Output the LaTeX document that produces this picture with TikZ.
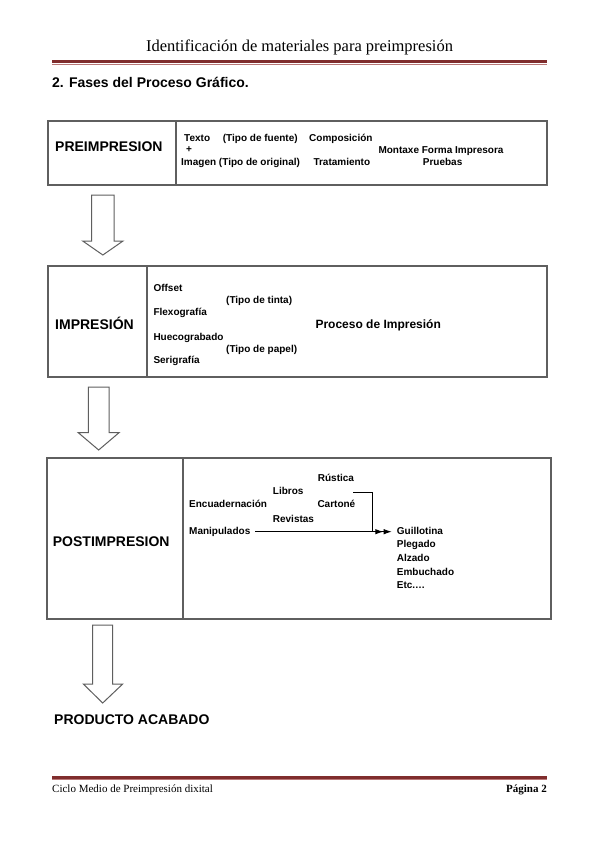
\documentclass[tikz,border=0pt]{standalone}
\usepackage{fontspec}
\setmainfont{Liberation Sans}
\newfontfamily\hdrserif{Liberation Serif}
\usetikzlibrary{arrows.meta,calc}
\definecolor{rulered}{RGB}{128,45,45}
\definecolor{rulelight}{RGB}{185,120,120}
\definecolor{boxgray}{RGB}{95,95,95}
\begin{document}
\begin{tikzpicture}[x=1pt,y=-1pt,
  sm/.style={font=\bfseries\fontsize{10}{12}\selectfont, inner sep=0pt, anchor=base west},
  big/.style={font=\bfseries\fontsize{14}{16}\selectfont, inner sep=0pt, anchor=base west},
  mid/.style={font=\bfseries\fontsize{12}{14}\selectfont, inner sep=0pt, anchor=base west},
  boxline/.style={draw=boxgray, line width=1.2pt},
  blockarrow/.style={draw=boxgray, line width=1pt, fill=white, line join=miter},
  conn/.style={draw=black, line width=0.9pt, -{Latex[length=8pt,width=5.5pt]}},
  rulestyle/.style={draw=rulered, line width=3pt},
  rulethin/.style={draw=rulelight, line width=0.8pt}
]
\useasboundingbox[fill=white] (0,0) rectangle (599,848);

% header
\node[font=\hdrserif\fontsize{16.5}{18}\selectfont, inner sep=0pt, anchor=base] (title) at (299.5,51.5) {Identificación de materiales para preimpresión};
\draw[rulestyle] (52,62) -- (547,62);
\draw[rulethin] (52,64.2) -- (547,64.2);
\node[big] (sec) at (52,88) {2. Fases del Proceso Gráfico.};

% box 1
\draw[boxline] (48,121) rectangle (547,185);
\draw[boxline] (176,121) -- (176,185);
\node[big] (pre) at (55,151) {PREIMPRESION};
\node[sm] (texto) at (184,142) {Texto};
\node[sm] (tfuente) at (222.7,142) {(Tipo de fuente)};
\node[sm] (compos) at (309,142) {Composición};
\node[sm] (plus) at (186,153) {+};
\node[sm] (imagen) at (181,165) {Imagen (Tipo de original)};
\node[sm] (tratam) at (313.3,165) {Tratamiento};
\node[sm] (montaxe) at (378.3,153.5) {Montaxe Forma Impresora};
\node[sm] (pruebas) at (422.7,165) {Pruebas};

% arrow 1
\draw[blockarrow] (91.7,195) -- (114,195) -- (114,241) -- (123,241) -- (102.85,255) -- (82.7,241) -- (91.7,241) -- cycle;

% box 2
\draw[boxline] (48,266) rectangle (547,377);
\draw[boxline] (147,266) -- (147,377);
\node[big] (imp) at (55,329) {IMPRESIÓN};
\node[sm] (offset) at (153.3,291.8) {Offset};
\node[sm] (tinta) at (226,303.5) {(Tipo de tinta)};
\node[sm] (flexo) at (153.3,315.8) {Flexografía};
\node[sm] (hueco) at (153.3,340.8) {Huecograbado};
\node[sm] (papel) at (226,352.8) {(Tipo de papel)};
\node[sm] (serig) at (153.3,363.5) {Serigrafía};
\node[mid] (proceso) at (315.3,328.3) {Proceso de Impresión};

% arrow 2
\draw[blockarrow] (88.3,387) -- (109,387) -- (109,432.7) -- (119,432.7) -- (98.65,450) -- (78.3,432.7) -- (88.3,432.7) -- cycle;

% box 3
\draw[boxline] (47,458) rectangle (551,619);
\draw[boxline] (183,458) -- (183,619);
\node[big] (post) at (52.7,546.7) {POSTIMPRESION};
\node[sm] (rustica) at (317.7,481.2) {Rústica};
\node[sm] (libros) at (272.7,494.5) {Libros};
\node[sm] (encuad) at (189,507.5) {Encuadernación};
\node[sm] (carton) at (317.3,507.5) {Cartoné};
\node[sm] (revistas) at (272.7,522.2) {Revistas};
\node[sm] (manip) at (189,534.8) {Manipulados};
\node[sm] (guill) at (396.7,534.8) {Guillotina};
\node[sm] (pleg) at (396.7,547.8) {Plegado};
\node[sm] (alz) at (396.7,561.8) {Alzado};
\node[sm] (embu) at (396.7,575.2) {Embuchado};
\node[sm] (etc) at (396.7,588.8) {Etc.…};
\coordinate (brk) at (353.3,492.7);
\draw[conn] ([xshift=4.5pt,yshift=3.1pt]manip.base east) -- ([xshift=-5pt,yshift=3.1pt]guill.base west);
\draw[conn] (brk) -- ++(19.4,0) |- ([xshift=-13.4pt,yshift=3.1pt]guill.base west);

% arrow 3
\draw[blockarrow] (92.7,625) -- (112.7,625) -- (112.7,684) -- (122.7,684) -- (102.7,703) -- (83.3,684) -- (92.7,684) -- cycle;

\node[big] (prod) at (54,724.3) {PRODUCTO ACABADO};

% footer
\draw[rulestyle] (52,777) -- (547,777);
\draw[rulethin] (52,779.2) -- (547,779.2);
\node[font=\hdrserif\fontsize{11}{13}\selectfont, inner sep=0pt, anchor=base west] (foot) at (52,792.5) {Ciclo Medio de Preimpresión dixital};
\node[font=\hdrserif\bfseries\fontsize{11}{13}\selectfont, inner sep=0pt, anchor=base east] (page) at (547,792.5) {Página 2};
\end{tikzpicture}
\end{document}
